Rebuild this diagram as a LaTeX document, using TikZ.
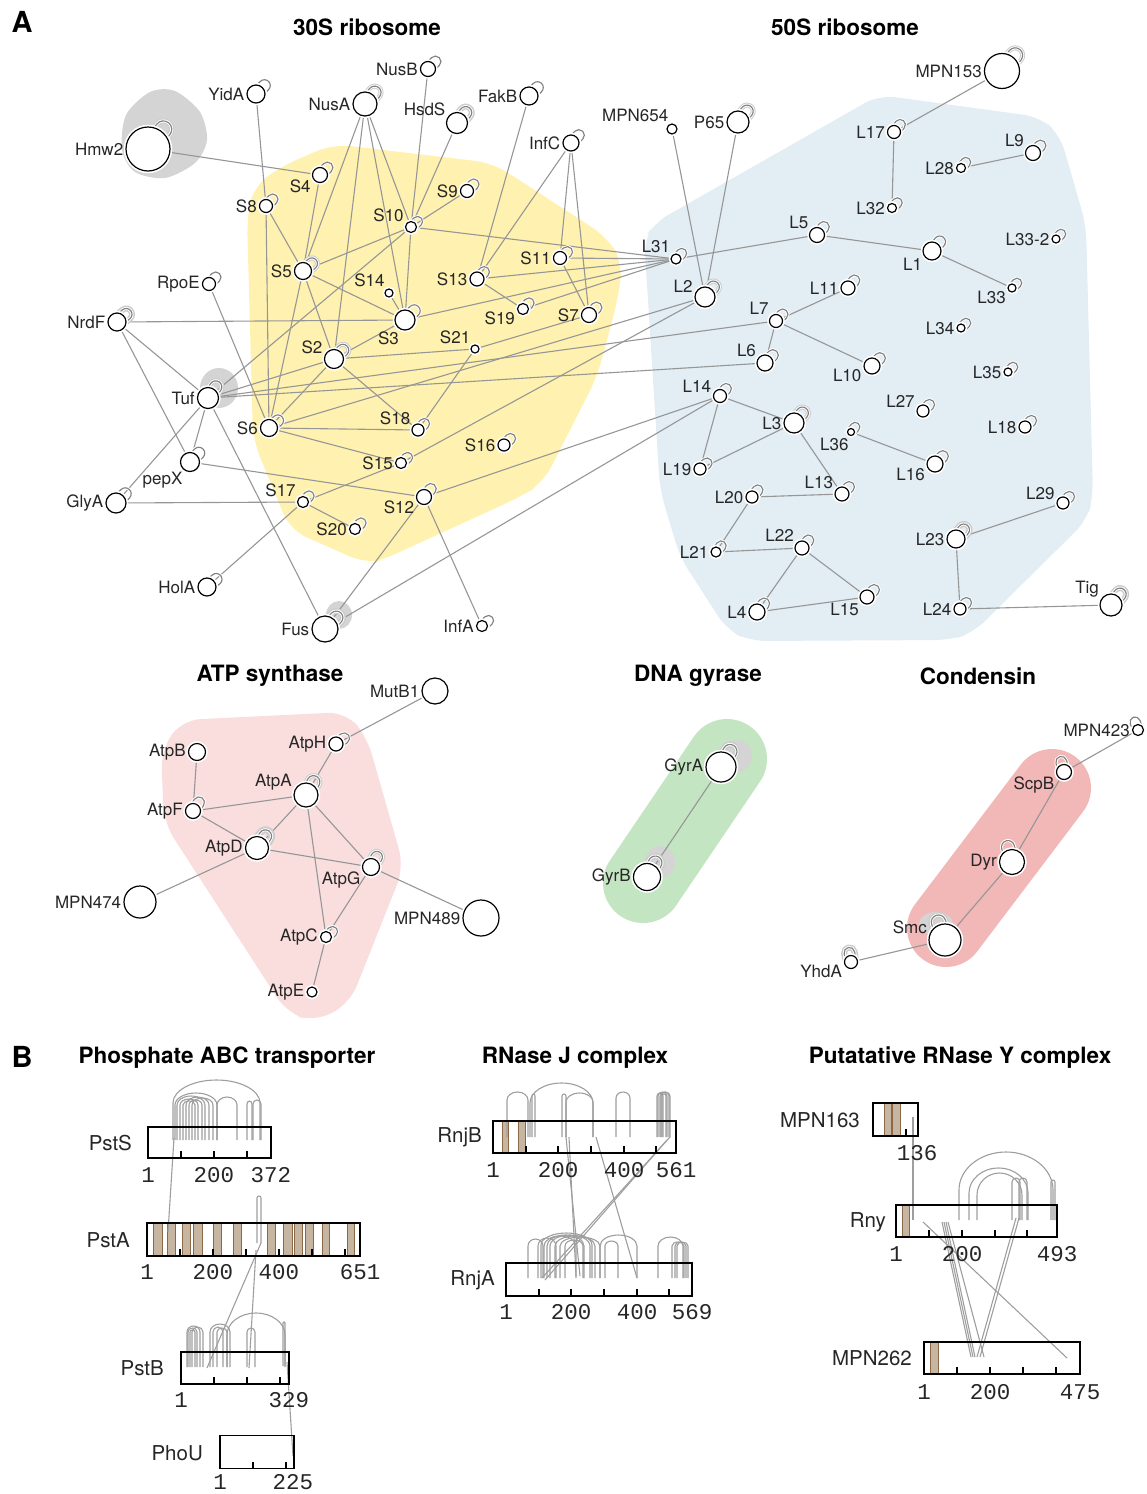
\documentclass[tikz,border=0pt]{standalone}
\usepackage{fontspec}
\setmainfont{TeX Gyre Heros}
\newfontfamily\monof{Liberation Mono}
\pgfdeclarelayer{blobs}
\pgfdeclarelayer{edges}
\pgfsetlayers{blobs,edges,main}
\definecolor{edgec}{RGB}{150,150,150}
\definecolor{loopc}{RGB}{130,130,130}
\definecolor{yel}{RGB}{255,242,176}
\definecolor{blu}{RGB}{226,237,244}
\definecolor{pnk}{RGB}{250,222,222}
\definecolor{grn}{RGB}{196,229,194}
\definecolor{redb}{RGB}{242,183,183}
\definecolor{blobg}{RGB}{212,212,212}
\definecolor{bandf}{RGB}{198,181,160}
\definecolor{bande}{RGB}{140,105,70}
\tikzset{
 pn/.style={circle,draw=black,fill=white,line width=1.2pt,inner sep=0pt,preaction={draw=white,line width=4.5pt}},
 lab/.style={font=\fontsize{17}{17}\selectfont,inner sep=1pt,text=black!85},
 ed/.style={draw=edgec,line width=1.1pt},
 lpw/.style={draw=white,line width=3pt},
 lpg/.style={draw=loopc,line width=1.15pt},
 ttl/.style={font=\bfseries\fontsize{22.5}{22.5}\selectfont,inner sep=0pt},
 pnl/.style={font=\bfseries\fontsize{29}{29}\selectfont,inner sep=0pt},
 glab/.style={font=\fontsize{20.5}{20.5}\selectfont,anchor=east,inner sep=0pt,text=black!85},
 num/.style={font=\monof\fontsize{22.5}{22.5}\selectfont,inner sep=0pt,text=black!85},
 xlk/.style={draw=black!38,line width=1.1pt},
 gbox/.style={draw=black,line width=1.2pt,inner sep=0pt},
 band/.style={fill=bandf,draw=bande,line width=0.9pt},
 tk/.style={draw=black,line width=1.1pt},
}
\newcommand\nd[6]{\node[pn,minimum size=#4pt,label={[lab]#5:#6}] (#1) at (#2,#3) {};}
% self loop: [halo width] node, radius, direction
\newcommand\lp[4][0]{%
 \pgfmathsetmacro\lhw{(8+0.4*#3)/2}%
 \pgfmathsetmacro\ldz{sqrt(max(#3*#3-\lhw*\lhw,0))-1.5}%
 \pgfmathsetmacro\lll{#3+3}%
 \begin{pgfonlayer}{edges}%
 \ifdim#1pt>0pt \draw[draw=black!20,line width=#1pt,line join=round,shift={(#2)},rotate=#4] (\ldz pt,-\lhw pt) -- (\lll pt,-\lhw pt) arc[start angle=-90,end angle=90,radius=\lhw pt] -- (\ldz pt,\lhw pt);\fi
 \draw[lpw,shift={(#2)},rotate=#4] (\ldz pt,-\lhw pt) -- (\lll pt,-\lhw pt) arc[start angle=-90,end angle=90,radius=\lhw pt] -- (\ldz pt,\lhw pt);
 \draw[lpg,shift={(#2)},rotate=#4] (\ldz pt,-\lhw pt) -- (\lll pt,-\lhw pt) arc[start angle=-90,end angle=90,radius=\lhw pt] -- (\ldz pt,\lhw pt);
 \end{pgfonlayer}}
\newcommand\xa[5]{%
 \pgfmathsetmacro\xaM{(#1+#2)/2}\pgfmathsetmacro\xaR{(#2-#1)/2}%
 \pgfmathsetmacro\xaT{#4-#5}\pgfmathsetmacro\xaC{#4-0.552*#5}%
 \pgfmathsetmacro\xaL{\xaM-0.552*\xaR}\pgfmathsetmacro\xaRR{\xaM+0.552*\xaR}%
 \draw[xlk] (#1,#3) -- (#1,#4) .. controls (#1,\xaC) and (\xaL,\xaT) .. (\xaM,\xaT) .. controls (\xaRR,\xaT) and (#2,\xaC) .. (#2,#4) -- (#2,#3);}
\begin{document}
\begin{tikzpicture}[x=1pt,y=-1pt,label distance=1pt]
\useasboundingbox (0,0) rectangle (1147,1494);
% ---------------- titles
\node[pnl] (pA) at (22,22) {A};
\node[ttl] (t30) at (367,27) {30S ribosome};
\node[ttl] (t50) at (845,27) {50S ribosome};
\node[ttl] (tatp) at (270,676) {ATP synthase};
\node[ttl] (tgyr) at (698,676) {DNA gyrase};
\node[ttl] (tcon) at (978,676) {Condensin};
% ---------------- blobs
\begin{pgfonlayer}{blobs}
\fill[yel,rounded corners=18pt] (333,144) -- (493,163) -- (607,237) -- (623,263) -- (617,303) -- (597,377) -- (543,483) -- (520,497) -- (380,561) -- (367,564) -- (290,530) -- (253,440) -- (247,217) -- (253,187) -- (280,167) -- cycle;
\fill[blu,rounded corners=16pt] (644,240) -- (654,223) -- (879,95) -- (1040,117) -- (1060,135) -- (1086,225) -- (1093,497) -- (1087,520) -- (973,633) -- (950,640) -- (750,641) -- (727,630) -- (680,557) -- (660,490) -- (648,300) -- cycle;
\fill[pnk,rounded corners=18pt] (161,750) -- (182,720) -- (346,712) -- (367,737) -- (404,867) -- (350,1003) -- (315,1022) -- (287,1013) -- (164,823) -- cycle;
\draw[grn,line width=80pt,line cap=round] (727,759) -- (643,883);
\draw[redb,line width=78pt,line cap=round] (1052,788) -- (946,928);
\fill[blobg] plot[smooth cycle] coordinates {(122,150) (126,115) (150,92) (175,91) (200,112) (207,140) (195,163) (165,178) (135,172)};
\fill[blobg] (219,388) ellipse (19pt and 20pt);
\fill[blobg] (339,615) ellipse (13pt and 14pt);
\fill[blobg] (737,756) ellipse (15pt and 16pt);
\fill[blobg] (660,862) ellipse (15pt and 16pt);
\fill[blobg] (936,924) ellipse (17pt and 12pt);
\end{pgfonlayer}
% ---------------- 30S nodes
\nd{Hmw2}{148}{149}{44}{180}{Hmw2}
\nd{YidA}{256}{94}{18}{180}{YidA}
\nd{NusA}{365}{104}{24}{180}{NusA}
\nd{NusB}{428}{69}{15}{180}{NusB}
\nd{HsdS}{457}{123}{21}{150}{HsdS}
\nd{FakB}{529}{96}{18}{180}{FakB}
\nd{InfC}{571}{143}{16}{180}{InfC}
\nd{S4}{320}{175}{15}{205}{S4}
\nd{S8}{266}{206}{13}{180}{S8}
\nd{S9}{467}{191}{13}{180}{S9}
\nd{S10}{411}{227}{11}{150}{S10}
\nd{S5}{303}{271}{17}{180}{S5}
\nd{S14}{389}{293}{8}{125}{S14}
\nd{S11}{560}{258}{13}{180}{S11}
\nd{S13}{477}{279}{14}{180}{S13}
\nd{S3}{405}{320}{20}{245}{S3}
\nd{S19}{523}{309}{11}{195}{S19}
\nd{S7}{589}{315}{15}{180}{S7}
\nd{S21}{475}{349}{8}{130}{S21}
\nd{S2}{334}{359}{19}{160}{S2}
\nd{RpoE}{209}{284}{13}{180}{RpoE}
\nd{NrdF}{117}{322}{18}{180}{NrdF}
\nd{Tuf}{208}{398}{21}{180}{Tuf}
\nd{S6}{269}{428}{17}{180}{S6}
\nd{S18}{418}{430}{12}{150}{S18}
\nd{S15}{401}{463}{11}{180}{S15}
\nd{S16}{504}{445}{12}{180}{S16}
\nd{pepX}{190}{462}{19}{235}{pepX}
\nd{GlyA}{116}{503}{20}{180}{GlyA}
\nd{S17}{303}{502}{11}{150}{S17}
\nd{S20}{355}{529}{11}{180}{S20}
\nd{S12}{424}{497}{15}{195}{S12}
\nd{HolA}{207}{587}{18}{180}{HolA}
\nd{Fus}{325}{629}{26}{180}{Fus}
\nd{InfA}{482}{626}{11}{180}{InfA}
% ---------------- 50S nodes
\nd{MPN153}{1002}{71}{35}{180}{MPN153}
\nd{MPN654}{672}{129}{10}{112}{MPN654}
\nd{P65}{738}{122}{22}{180}{P65}
\nd{L17}{894}{132}{13}{180}{L17}
\nd{L9}{1033}{153}{15}{150}{L9}
\nd{L28}{961}{168}{9}{180}{L28}
\nd{L32}{892}{208}{9}{180}{L32}
\nd{L5}{817}{235}{15}{145}{L5}
\nd{L31}{676}{259}{10}{135}{L31}
\nd{L1}{932}{251}{18}{215}{L1}
\nd{L33b}{1056}{239}{8}{180}{L33-2}
\nd{L2}{705}{297}{20}{165}{L2}
\nd{L11}{848}{288}{14}{180}{L11}
\nd{L7}{776}{321}{13}{140}{L7}
\nd{L33}{1012}{288}{8}{205}{L33}
\nd{L34}{961}{328}{8}{180}{L34}
\nd{L6}{765}{363}{16}{145}{L6}
\nd{L10}{872}{366}{16}{190}{L10}
\nd{L35}{1008}{372}{8}{180}{L35}
\nd{L14}{720}{396}{13}{165}{L14}
\nd{L3}{794}{423}{20}{180}{L3}
\nd{L27}{923}{411}{12}{160}{L27}
\nd{L18}{1025}{427}{12}{180}{L18}
\nd{L36}{851}{432}{7}{255}{L36}
\nd{L19}{700}{469}{12}{180}{L19}
\nd{L16}{935}{464}{16}{200}{L16}
\nd{L13}{842}{494}{14}{155}{L13}
\nd{L20}{752}{497}{12}{180}{L20}
\nd{L29}{1063}{503}{12}{165}{L29}
\nd{L23}{956}{539}{18}{180}{L23}
\nd{L22}{802}{548}{14}{145}{L22}
\nd{L21}{716}{552}{10}{180}{L21}
\nd{L15}{867}{597}{14}{215}{L15}
\nd{L4}{757}{612}{16}{180}{L4}
\nd{L24}{960}{609}{12}{180}{L24}
\nd{Tig}{1111}{605}{22}{150}{Tig}
% ---------------- ATP synthase
\nd{MutB1}{435}{691}{26}{180}{MutB1}
\nd{AtpH}{336}{744}{14}{180}{AtpH}
\nd{AtpB}{197}{752}{17}{180}{AtpB}
\nd{AtpA}{306}{795}{24}{165}{AtpA}
\nd{AtpF}{193}{811}{15}{180}{AtpF}
\nd{AtpD}{257}{848}{23}{180}{AtpD}
\nd{AtpG}{371}{867}{17}{200}{AtpG}
\nd{MPN474}{140}{902}{32}{180}{MPN474}
\nd{MPN489}{481}{918}{36}{180}{MPN489}
\nd{AtpC}{326}{937}{11}{180}{AtpC}
\nd{AtpE}{312}{992}{10}{180}{AtpE}
% ---------------- gyrase / condensin
\nd{GyrA}{721}{767}{30}{180}{GyrA}
\nd{GyrB}{647}{877}{27}{180}{GyrB}
\nd{MPN423}{1138}{730}{11}{180}{MPN423}
\nd{ScpB}{1064}{772}{15}{200}{ScpB}
\nd{Dyr}{1012}{862}{25}{180}{Dyr}
\nd{Smc}{945}{940}{32}{165}{Smc}
\nd{YhdA}{851}{962}{13}{195}{YhdA}
% ---------------- edges
\begin{pgfonlayer}{edges}
\foreach \a/\b in {Hmw2/S4,YidA/S8,S8/S6,S8/S5,S4/S5,NusA/S5,NusA/S2,NusA/S3,NusA/S10,NusB/S10,S10/S3,HsdS/S10,S10/S9,S10/S5,S10/L31,S10/Tuf,FakB/S13,InfC/S13,InfC/S11,InfC/S7,S11/S7,S11/L31,S13/L31,S13/S19,S19/L31,S3/L31,S5/S3,S5/S2,S5/S6,S14/S3,S3/S2,NrdF/S3,S2/S21,S2/Tuf,S2/S6,S2/S18,S21/S18,S21/S7,S6/RpoE,S6/S18,S6/S15,S6/L2,S15/S17,S15/L2,S17/S20,S17/HolA,S17/GlyA,NrdF/Tuf,NrdF/pepX,Tuf/pepX,Tuf/GlyA,Tuf/Fus,Tuf/L7,Tuf/L6,pepX/S12,S12/Fus,S12/InfA,S12/L14,Fus/L14,MPN654/L2,P65/L2,L31/L5,L5/L1,L1/L33,MPN153/L17,L17/L32,L28/L9,L7/L11,L7/L6,L7/L10,L14/L3,L14/L19,L3/L19,L3/L13,L36/L16,L20/L13,L20/L21,L21/L22,L22/L4,L22/L15,L4/L15,L23/L29,L23/L24,L24/Tig,MutB1/AtpH,AtpH/AtpA,AtpB/AtpF,AtpF/AtpA,AtpF/AtpD,AtpA/AtpD,AtpA/AtpG,AtpA/AtpC,AtpD/AtpG,AtpD/MPN474,AtpG/MPN489,AtpG/AtpC,AtpC/AtpE,GyrA/GyrB,MPN423/ScpB,ScpB/Dyr,Dyr/Smc,Smc/YhdA}
  \draw[ed] (\a) -- (\b);
\end{pgfonlayer}
% ---------------- self loops
\lp[5]{Hmw2}{22}{52}
\lp{YidA}{9}{45}
\lp[5]{NusA}{12}{50}
\lp{NusB}{7.5}{45}
\lp[6]{HsdS}{10.5}{50}
\lp{FakB}{9}{45}
\lp{InfC}{8}{45}
\lp{S4}{7.5}{45}
\lp{S8}{6.5}{45}
\lp{S9}{6.5}{45}
\lp{S10}{5.5}{40}
\lp[5]{S5}{8.5}{40}
\lp{S11}{6.5}{40}
\lp{S13}{7}{45}
\lp{S3}{10}{45}
\lp{S19}{5.5}{45}
\lp{S7}{7.5}{45}
\lp[5]{S2}{9.5}{45}
\lp{RpoE}{6.5}{45}
\lp[6]{NrdF}{9}{40}
\lp[5]{Tuf}{10.5}{55}
\lp{S6}{8.5}{40}
\lp{S18}{6}{45}
\lp{S15}{5.5}{40}
\lp{S16}{6}{45}
\lp{pepX}{9.5}{45}
\lp{GlyA}{10}{45}
\lp{S17}{5.5}{45}
\lp{S20}{5.5}{45}
\lp{S12}{7.5}{50}
\lp{HolA}{9}{40}
\lp[6]{Fus}{13}{45}
\lp{InfA}{5.5}{40}
\lp[5]{MPN153}{17.5}{50}
\lp[5]{P65}{11}{50}
\lp{L17}{6.5}{50}
\lp{L9}{7.5}{45}
\lp{L28}{4.5}{50}
\lp{L32}{4.5}{45}
\lp{L5}{7.5}{50}
\lp{L31}{5}{45}
\lp{L1}{9}{50}
\lp{L33b}{4}{45}
\lp[5]{L2}{10}{50}
\lp{L11}{7}{50}
\lp{L7}{6.5}{45}
\lp{L33}{4}{45}
\lp{L34}{4}{45}
\lp{L6}{8}{45}
\lp{L10}{8}{45}
\lp{L35}{4}{45}
\lp{L14}{6.5}{50}
\lp[5]{L3}{10}{50}
\lp{L27}{6}{45}
\lp{L18}{6}{45}
\lp{L36}{3.5}{50}
\lp{L19}{6}{40}
\lp{L16}{8}{45}
\lp{L13}{7}{45}
\lp{L20}{6}{50}
\lp{L29}{6}{45}
\lp[6]{L23}{9}{50}
\lp{L22}{7}{50}
\lp{L21}{5}{50}
\lp{L15}{7}{45}
\lp{L4}{8}{50}
\lp{L24}{6}{45}
\lp[6]{Tig}{11}{50}
\lp{AtpH}{7}{35}
\lp[5]{AtpA}{12}{60}
\lp{AtpF}{7.5}{55}
\lp[7]{AtpD}{11.5}{55}
\lp[5]{AtpG}{8.5}{60}
\lp{AtpC}{5.5}{40}
\lp[6]{GyrA}{15}{60}
\lp[6]{GyrB}{13.5}{60}
\lp{MPN423}{5.5}{110}
\lp{ScpB}{7.5}{105}
\lp{Dyr}{12.5}{105}
\lp[6]{Smc}{16}{110}
\lp[6]{YhdA}{6.5}{100}
% ================= PANEL B
\node[pnl] (pB) at (22,1057) {B};
\node[ttl] (tpho) at (227,1058) {Phosphate ABC transporter};
\node[ttl] (trnj) at (575,1058) {RNase J complex};
\node[ttl] (trny) at (960,1058) {Putatative RNase Y complex};
% bands
\foreach \p/\q in {153/162,167/175,182/190,193/202,213/221,233/241,267/275,283/292,294/302,305/313,322/329,347/354}
  \draw[band] (\p,1223) rectangle (\q,1256);
\foreach \p/\q in {502/508,518/525} \draw[band] (\p,1121) rectangle (\q,1153);
\foreach \p/\q in {884/891,892/900} \draw[band] (\p,1103) rectangle (\q,1136);
\draw[band] (902,1205) rectangle (909,1237);
\draw[band] (930,1342) rectangle (938,1374);
% crosslinks PstS
\xa{173}{260}{1140}{1103}{23}
\xa{175}{217}{1140}{1105}{12}
\xa{177}{205}{1140}{1105}{9}
\xa{180}{198}{1140}{1105}{6}
\xa{183}{195}{1140}{1105}{4}
\xa{186}{209}{1140}{1105}{8}
\xa{189}{202}{1140}{1105}{5}
\xa{192}{213}{1140}{1105}{7}
\xa{217}{237}{1140}{1105}{8}
\xa{247}{252}{1140}{1104}{3}
\xa{253}{261}{1140}{1104}{4}
\draw[xlk] (174,1138) -- (168,1232);
\xa{257}{261}{1243}{1198}{2}
\draw[xlk] (261,1243) -- (207,1368);
\draw[xlk] (256,1250) -- (249,1368);
\xa{187}{200}{1367}{1332}{6}
\xa{188}{197}{1367}{1332}{4}
\xa{190}{195}{1367}{1332}{2}
\xa{192}{203}{1367}{1332}{5}
\xa{210}{230}{1367}{1332}{8}
\xa{213}{223}{1367}{1332}{5}
\xa{217}{227}{1367}{1332}{4}
\xa{227}{285}{1367}{1335}{22}
\xa{247}{255}{1367}{1332}{4}
\xa{283}{285}{1366}{1323}{1}
\draw[xlk] (287,1362) -- (293,1456);
% RnjB / RnjA
\xa{507}{528}{1137}{1100}{8}
\xa{532}{535}{1137}{1096}{2}
\xa{530}{593}{1137}{1103}{20}
\xa{562}{566}{1137}{1096}{2}
\xa{566}{593}{1137}{1102}{9}
\xa{616}{630}{1137}{1098}{6}
\xa{657}{663}{1137}{1096}{3}
\xa{658}{667}{1137}{1096}{4}
\xa{660}{669}{1137}{1096}{4}
\xa{661}{670}{1137}{1096}{4}
\xa{662}{666}{1137}{1096}{2}
\draw[xlk] (566,1137) -- (580,1276);
\draw[xlk] (569,1137) -- (576,1276);
\draw[xlk] (596,1137) -- (637,1278);
\draw[xlk] (670,1137) -- (542,1278);
\draw[xlk] (667,1140) -- (545,1280);
\xa{528}{543}{1278}{1246}{7}
\xa{538}{556}{1278}{1246}{8}
\xa{541}{592}{1278}{1245}{12}
\xa{544}{576}{1278}{1246}{10}
\xa{547}{584}{1278}{1246}{11}
\xa{550}{590}{1278}{1246}{11}
\xa{555}{595}{1278}{1246}{10}
\xa{560}{600}{1278}{1246}{9}
\xa{565}{583}{1278}{1246}{6}
\xa{600}{637}{1278}{1246}{11}
\xa{605}{618}{1278}{1246}{5}
\xa{658}{683}{1278}{1246}{9}
\xa{672}{684}{1278}{1246}{4}
\xa{675}{686}{1278}{1246}{4}
\xa{677}{688}{1278}{1246}{4}
% Rny complex
\draw[xlk] (913,1117) -- (913,1220);
\xa{959}{1053}{1220}{1190}{38}
\xa{969}{1028}{1220}{1193}{25}
\xa{977}{1022}{1220}{1195}{22}
\xa{1012}{1020}{1220}{1182}{4}
\xa{1019}{1027}{1220}{1182}{4}
\xa{1051}{1055}{1220}{1182}{2}
\draw[xlk] (923,1222) -- (1067,1358);
\draw[xlk] (942,1222) -- (971,1357);
\draw[xlk] (944,1222) -- (973,1357);
\draw[xlk] (946,1222) -- (975,1357);
\draw[xlk] (948,1222) -- (984,1357);
\draw[xlk] (1016,1218) -- (977,1357);
\draw[xlk] (1019,1218) -- (980,1357);
% boxes
\node[gbox,minimum width=123pt,minimum height=31pt] (PstS) at (209.5,1142.5) {};
\node[gbox,minimum width=213pt,minimum height=33pt] (PstA) at (253.5,1239.5) {};
\node[gbox,minimum width=108pt,minimum height=32pt] (PstB) at (235,1368) {};
\node[gbox,minimum width=74pt,minimum height=33pt] (PhoU) at (257,1452) {};
\node[gbox,minimum width=183pt,minimum height=32pt] (RnjB) at (584.5,1137) {};
\node[gbox,minimum width=186pt,minimum height=33pt] (RnjA) at (599,1279.5) {};
\node[gbox,minimum width=45pt,minimum height=33pt] (MPN163) at (895.5,1119.5) {};
\node[gbox,minimum width=161pt,minimum height=32pt] (Rny) at (976.5,1221) {};
\node[gbox,minimum width=156pt,minimum height=32pt] (MPN262) at (1002,1358) {};
% ticks
\foreach \t in {181,214,247} \draw[tk] (\t,1158) -- (\t,1151);
\foreach \t in {180,213,246,279,312,345} \draw[tk] (\t,1256) -- (\t,1249);
\foreach \t in {214,247,280} \draw[tk] (\t,1384) -- (\t,1377);
\foreach \t in {253,286} \draw[tk] (\t,1468.5) -- (\t,1461.5);
\foreach \t in {526,558,591,624,656} \draw[tk] (\t,1153) -- (\t,1146);
\foreach \t in {539,571,604,637,669} \draw[tk] (\t,1296) -- (\t,1289);
\draw[tk] (906,1136) -- (906,1129);
\foreach \t in {929,962,995,1027} \draw[tk] (\t,1237) -- (\t,1230);
\foreach \t in {957,990,1023,1056} \draw[tk] (\t,1374) -- (\t,1367);
% gene labels
\node[glab] (lPstS) at (132,1143) {PstS};
\node[glab] (lPstA) at (130,1240) {PstA};
\node[glab] (lPstB) at (164,1368) {PstB};
\node[glab] (lPhoU) at (203,1453) {PhoU};
\node[glab] (lRnjB) at (482,1137) {RnjB};
\node[glab] (lRnjA) at (495,1280) {RnjA};
\node[glab] (lM163) at (860,1120) {MPN163};
\node[glab] (lRny) at (886,1222) {Rny};
\node[glab] (lM262) at (912,1358) {MPN262};
% numbers
\node[num] (n1) at (148,1175) {1};
\node[num] (n2) at (214,1175) {200};
\node[num] (n3) at (271,1175) {372};
\node[num] (n4) at (147,1272) {1};
\node[num] (n5) at (213,1272) {200};
\node[num] (n6) at (279,1272) {400};
\node[num] (n7) at (360,1272) {651};
\node[num] (n8) at (181,1400) {1};
\node[num] (n9) at (289,1400) {329};
\node[num] (n10) at (220,1482) {1};
\node[num] (n11) at (293,1482) {225};
\node[num] (n12) at (493,1170) {1};
\node[num] (n13) at (558,1170) {200};
\node[num] (n14) at (624,1170) {400};
\node[num] (n15) at (676,1170) {561};
\node[num] (n16) at (506,1312) {1};
\node[num] (n17) at (571,1312) {200};
\node[num] (n18) at (637,1312) {400};
\node[num] (n19) at (692,1312) {569};
\node[num] (n20) at (917,1153) {136};
\node[num] (n21) at (896,1254) {1};
\node[num] (n22) at (962,1254) {200};
\node[num] (n23) at (1057,1254) {493};
\node[num] (n24) at (924,1392) {1};
\node[num] (n25) at (990,1392) {200};
\node[num] (n26) at (1080,1392) {475};
\end{tikzpicture}
\end{document}
